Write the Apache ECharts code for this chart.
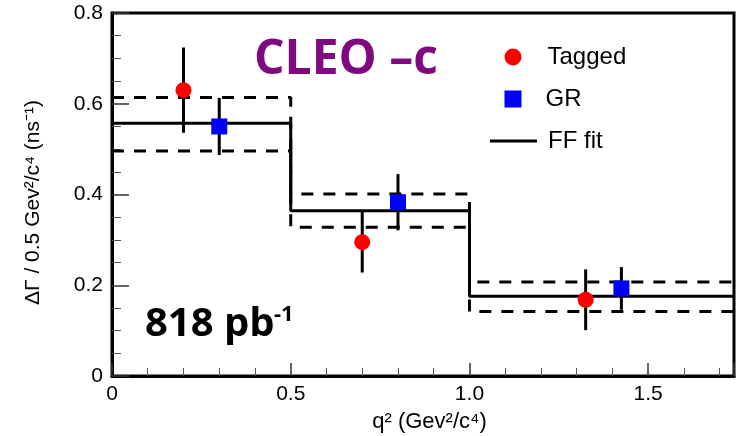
<!DOCTYPE html>
<html>
<head>
<meta charset="utf-8">
<script src="https://cdn.jsdelivr.net/npm/echarts@6/dist/echarts.min.js"></script>
<style>
  html, body { margin: 0; padding: 0; background: #fff; }
  #chart { width: 738px; height: 436px; }
</style>
</head>
<body>
<div id="chart"></div>
<script>
// Differential decay rate per 0.5 GeV²/c⁴ bin of q²
const taggedQ2   = [0.2, 0.7, 1.325];
const taggedRate = [0.63, 0.295, 0.168];
const taggedErr  = [0.094, 0.067, 0.067];

const grQ2   = [0.3, 0.8, 1.425];
const grRate = [0.55, 0.383, 0.193];
const grErr  = [0.063, 0.062, 0.047];

// Form-factor fit, drawn as a histogram over the q² bins, with its error band
const binEdges = [0, 0.5, 1.0, 1.74];
const fitRate  = [0.557, 0.364, 0.176];
const fitUpper = [0.614, 0.401, 0.207];
const fitLower = [0.496, 0.328, 0.142];

const xTickValues = [0, 0.5, 1.0, 1.5];
const xTickLabels = ['0', '0.5', '1.0', '1.5'];
const yTickValues = [0, 0.2, 0.4, 0.6, 0.8];
const yTickLabels = ['0', '0.2', '0.4', '0.6', '0.8'];

const FONT = '"Liberation Sans", Arial, Helvetica, sans-serif';

// one point per bin edge; the last edge repeats the last bin's level
function stepPoints(levels) {
  return binEdges.map((x, i) => [x, levels[Math.min(i, levels.length - 1)]]);
}
function pointsWithErr(xs, ys, es) {
  return xs.map((x, i) => [x, ys[i], es[i]]);
}
function tickLabel(values, labels) {
  return v => {
    const i = values.findIndex(t => Math.abs(t - v) < 1e-9);
    return i < 0 ? '' : labels[i];
  };
}

function errorBarItem(params, api) {
  const x = api.value(0), y = api.value(1), e = api.value(2);
  const hi = api.coord([x, y + e]);
  const lo = api.coord([x, y - e]);
  return {
    type: 'line',
    shape: { x1: hi[0], y1: hi[1], x2: lo[0], y2: lo[1] },
    style: { stroke: '#000', lineWidth: 3 }
  };
}

const chart = echarts.init(document.getElementById('chart'), null, { renderer: 'canvas' });

const legendBase = {
  orient: 'vertical',
  padding: 0,
  selectedMode: false,
  itemHeight: 17,
  textStyle: { color: '#000', fontFamily: FONT, fontSize: 24, lineHeight: 24 }
};

chart.setOption({
  animation: false,
  backgroundColor: '#fff',
  grid: {
    left: 112, right: 4, top: 13, bottom: 60,
    containLabel: false,
    outerBoundsMode: 'none',
    show: true,
    borderColor: '#000',
    borderWidth: 3,
    backgroundColor: 'transparent'
  },
  legend: [
    Object.assign({}, legendBase, {
      data: [{ name: 'Tagged', icon: 'circle' }], left: 504.5, top: 45, itemWidth: 17,
      textStyle: Object.assign({}, legendBase.textStyle, { padding: [0, 0, 0, 21] })
    }),
    Object.assign({}, legendBase, {
      data: [{ name: 'GR', icon: 'rect' }], left: 504.5, top: 87, itemWidth: 17,
      textStyle: Object.assign({}, legendBase.textStyle, { padding: [0, 0, 0, 19] })
    }),
    Object.assign({}, legendBase, {
      data: [{ name: 'FF fit', icon: 'rect' }], left: 490, top: 129,
      itemWidth: 47, itemHeight: 3,
      textStyle: Object.assign({}, legendBase.textStyle, { padding: [0, 0, 0, 6] })
    })
  ],
  xAxis: {
    type: 'value',
    min: 0, max: 1.74, interval: 0.5,
    name: 'q² (Gev²/c⁴)',
    nameLocation: 'middle',
    nameGap: 35,
    nameTextStyle: { color: '#000', fontFamily: FONT, fontSize: 22, padding: [0, 0, 0, 13] },
    axisLine: { show: true, onZero: false, lineStyle: { color: '#000', width: 3 } },
    axisTick: { show: true, inside: true, length: 13, lineStyle: { color: '#333', width: 1.5 } },
    minorTick: { show: true, splitNumber: 5, length: 8, lineStyle: { color: '#555', width: 1 } },
    splitLine: { show: false },
    minorSplitLine: { show: false },
    axisLabel: {
      color: '#000', fontFamily: FONT, fontSize: 21, margin: 8,
      formatter: tickLabel(xTickValues, xTickLabels)
    }
  },
  yAxis: {
    type: 'value',
    min: 0, max: 0.8, interval: 0.2,
    name: 'ΔΓ / 0.5 Gev²/c⁴ (ns⁻¹)',
    nameLocation: 'middle',
    nameGap: 68,
    nameTextStyle: { color: '#000', fontFamily: FONT, fontSize: 21, padding: [0, 16, 0, 0] },
    axisLine: { show: true, onZero: false, lineStyle: { color: '#000', width: 3 } },
    axisTick: { show: true, inside: true, length: 17, lineStyle: { color: '#333', width: 1.5 } },
    minorTick: { show: true, splitNumber: 4, length: 9, lineStyle: { color: '#555', width: 1 } },
    splitLine: { show: false },
    minorSplitLine: { show: false },
    axisLabel: {
      color: '#000', fontFamily: FONT, fontSize: 21, margin: 9,
      padding: [6, 0, 0, 0],
      formatter: tickLabel(yTickValues, yTickLabels)
    }
  },
  series: [
    {
      name: 'fit upper', type: 'line', step: 'end', symbol: 'none', z: 2,
      data: stepPoints(fitUpper),
      lineStyle: { color: '#000', width: 3, type: [12, 10], cap: 'butt' }
    },
    {
      name: 'fit lower', type: 'line', step: 'end', symbol: 'none', z: 2,
      data: stepPoints(fitLower),
      lineStyle: { color: '#000', width: 3, type: [12, 10], cap: 'butt' }
    },
    {
      name: 'FF fit', type: 'line', step: 'end', symbol: 'none', z: 3,
      data: stepPoints(fitRate),
      itemStyle: { color: '#000' },
      lineStyle: { color: '#000', width: 3, type: 'solid' }
    },
    {
      name: 'Tagged err', type: 'custom', z: 4,
      renderItem: errorBarItem,
      encode: { x: 0, y: 1 },
      data: pointsWithErr(taggedQ2, taggedRate, taggedErr)
    },
    {
      name: 'GR err', type: 'custom', z: 4,
      renderItem: errorBarItem,
      encode: { x: 0, y: 1 },
      data: pointsWithErr(grQ2, grRate, grErr)
    },
    {
      name: 'Tagged', type: 'scatter', symbol: 'circle', symbolSize: 16, z: 5,
      itemStyle: { color: '#ff0000', opacity: 1 },
      data: taggedQ2.map((x, i) => [x, taggedRate[i]])
    },
    {
      name: 'GR', type: 'scatter', symbol: 'rect', symbolSize: 16, z: 5,
      itemStyle: { color: '#0000ff', opacity: 1 },
      data: grQ2.map((x, i) => [x, grRate[i]])
    }
  ],
  graphic: [
    {
      type: 'text', left: 254, top: 36, z: 10,
      style: {
        text: 'CLEO –c',
        fill: '#7f0a80',
        font: 'bold 48px "Open Sans", sans-serif'
      }
    },
    {
      type: 'text', x: 145, y: 325, z: 10,
      style: {
        text: '818 pb',
        fill: '#000',
        font: 'bold 40px "Open Sans", sans-serif',
        verticalAlign: 'middle'
      }
    },
    {
      type: 'text', x: 274, y: 315, z: 10,
      style: {
        text: '-1',
        fill: '#000',
        font: 'bold 22px "Open Sans", sans-serif',
        verticalAlign: 'middle'
      }
    }
  ]
});
</script>
</body>
</html>
